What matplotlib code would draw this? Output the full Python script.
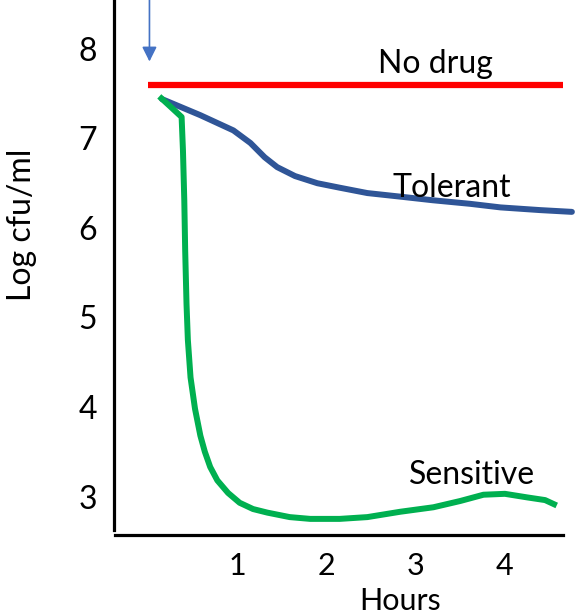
import matplotlib
matplotlib.use("Agg")
from matplotlib import pyplot as plt

plt.rcParams['font.family'] = ['Lato', 'DejaVu Sans']

# no drug control (flat line)
nodrug_hours = [0.0, 4.65]
nodrug_log = [7.6, 7.6]

# tolerant strain
tol_hours = [0.16, 0.59, 0.96, 1.15, 1.31, 1.45, 1.65, 1.90, 2.15, 2.46,
             2.83, 3.19, 3.61, 3.95, 4.39, 4.75]
tol_log = [7.44, 7.26, 7.09, 6.95, 6.79, 6.68, 6.58, 6.50, 6.45, 6.39,
           6.35, 6.31, 6.27, 6.23, 6.20, 6.18]

# sensitive strain
sens_hours = [0.13, 0.25, 0.38, 0.395, 0.41, 0.42, 0.435, 0.45, 0.48, 0.53,
              0.59, 0.64, 0.70, 0.78, 0.90, 1.03, 1.18, 1.34, 1.59, 1.82,
              2.15, 2.46, 2.83, 3.20, 3.50, 3.76, 4.00, 4.25, 4.45, 4.58]
sens_log = [7.47, 7.36, 7.24, 6.87, 6.31, 5.75, 5.15, 4.75, 4.33, 3.98,
            3.68, 3.50, 3.33, 3.18, 3.04, 2.93, 2.86, 2.82, 2.77, 2.75,
            2.75, 2.77, 2.83, 2.88, 2.95, 3.02, 3.03, 2.99, 2.96, 2.90]

x_ticks = [1, 2, 3, 4]
y_ticks = [3, 4, 5, 6, 7, 8]

fig = plt.figure(figsize=(5.76, 6.15), dpi=100)
ax = fig.add_axes([114 / 576, 80 / 615, 462 / 576, 535 / 615])

ax.plot(nodrug_hours, nodrug_log, color='#FF0000', lw=4.5, solid_capstyle='butt')
ax.plot(tol_hours, tol_log, color='#2F5597', lw=4.3,
        solid_capstyle='round', solid_joinstyle='round')
ax.plot(sens_hours, sens_log, color='#00B050', lw=4.3,
        solid_capstyle='butt', solid_joinstyle='round')

# drug added
ax.annotate('', xy=(0.02, 7.86), xytext=(0.02, 8.6), annotation_clip=False,
            arrowprops=dict(arrowstyle='-|>', color='#4472C4', lw=1.2,
                            mutation_scale=22, shrinkA=0, shrinkB=0))

ax.text(3.22, 7.83, 'No drug', fontsize=23, ha='center', va='center')
ax.text(3.41, 6.45, 'Tolerant', fontsize=23, ha='center', va='center')
ax.text(3.63, 3.24, 'Sensitive', fontsize=23, ha='center', va='center')

ax.set_xlim(-0.377, 4.796)
ax.set_ylim(2.57, 8.547)
ax.set_xticks(x_ticks)
ax.set_yticks(y_ticks)
ax.tick_params(length=0, labelsize=23)
ax.tick_params(axis='y', pad=12)
ax.tick_params(axis='x', labelsize=22, pad=12)

for s in ['top', 'right']:
    ax.spines[s].set_visible(False)
ax.spines['left'].set_linewidth(2.3)
ax.spines['bottom'].set_linewidth(2.3)
ax.spines['left'].set_bounds(2.63, 8.55)
ax.spines['bottom'].set_bounds(-0.37, 4.65)

ax.set_xlabel('Hours', fontsize=22, va='center')
ax.xaxis.set_label_coords(0.619, -0.123)
ax.set_ylabel('Log cfu/ml', fontsize=23, va='center')
ax.yaxis.set_label_coords(-0.2, 0.579)

fig.savefig('out.png', dpi=100)
